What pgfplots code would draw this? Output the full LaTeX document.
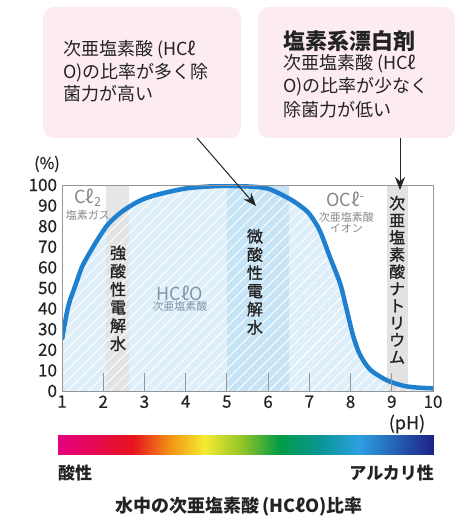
\documentclass[border=0pt]{standalone}
\usepackage{fontspec}
\setmainfont{Noto Sans CJK JP}
\newfontfamily\medfont[FakeBold=1.2]{Noto Sans CJK JP}
\newfontfamily\numfont[FakeBold=0.5]{Noto Sans CJK JP}
\usepackage{pgfplots}
\pgfplotsset{compat=1.18}
\usepackage{pgfplotstable}
\usetikzlibrary{patterns.meta, arrows.meta}

\definecolor{pinkbox}{RGB}{252,236,239}
\definecolor{areablue}{RGB}{222,239,250}
\definecolor{bandblue}{RGB}{198,228,245}
\definecolor{bandgray}{RGB}{226,226,226}
\definecolor{curveblue}{RGB}{30,128,206}
\definecolor{txtgray}{RGB}{135,135,135}
\definecolor{hclogray}{RGB}{130,150,168}
\definecolor{axgray}{RGB}{150,150,150}
\definecolor{txtdark}{RGB}{35,35,35}

% HClO share (%) against pH
\pgfplotstableread{
x y
1 25
1.15 41
1.32 51
1.48 60
1.64 66
1.88 74
2.12 81
2.45 87
2.85 92
3.25 95
4 98.3
4.8 99.5
5.5 99.3
6 98.2
6.5 93.5
6.77 90
7 86
7.25 78
7.5 65
7.75 52
7.9 40
8.06 27
8.22 18
8.47 10.5
8.87 5.3
9.27 2.6
9.6 1.7
10 1.3
}\curvedata

% colour bar samples (two rows, 21 columns)
\pgfplotstableread{
x y z
0 0 0
0.05 0 0
0.1 0 0
0.15 0 0
0.2 0 0
0.25 0 0
0.3 0 0
0.35 0 0
0.4 0 0
0.45 0 0
0.5 0 0
0.55 0 0
0.6 0 0
0.65 0 0
0.7 0 0
0.75 0 0
0.8 0 0
0.85 0 0
0.9 0 0
0.95 0 0
1 0 0
0 1 0
0.05 1 0
0.1 1 0
0.15 1 0
0.2 1 0
0.25 1 0
0.3 1 0
0.35 1 0
0.4 1 0
0.45 1 0
0.5 1 0
0.55 1 0
0.6 1 0
0.65 1 0
0.7 1 0
0.75 1 0
0.8 1 0
0.85 1 0
0.9 1 0
0.95 1 0
1 1 0
}\bardata

\newcommand{\fs}[1]{\fontsize{#1}{#1}\selectfont}

\begin{document}
\begin{tikzpicture}
\path[use as bounding box] (0,0) rectangle (472pt,522pt);

% callout boxes
\fill[pinkbox, rounded corners=11pt] (43pt,384pt) rectangle (241pt,515pt);
\fill[pinkbox, rounded corners=11pt] (258pt,384pt) rectangle (455pt,515pt);
\begin{scope}[every node/.style={anchor=base west, inner sep=0pt, text=txtdark, font=\fs{18}}]
\node at (63pt,466pt) {次亜塩素酸\hspace{4pt}(HCℓ};
\node at (63pt,443pt) {O)の比率が多く除};
\node at (63pt,421pt) {菌力が高い};
\node[font=\fs{22}\bfseries] at (283pt,472pt) {塩素系漂白剤};
\node at (283pt,452pt) {次亜塩素酸\hspace{4pt}(HCℓ};
\node at (283pt,429pt) {O)の比率が少なく};
\node at (283pt,405pt) {除菌力が低い};
\end{scope}

\begin{axis}[
  at={(62pt,131pt)}, anchor=south west,
  scale only axis, width=371pt, height=206pt,
  xmin=1, xmax=10, ymin=0, ymax=100,
  xtick={1,...,10}, ytick={0,10,...,100},
  axis on top,
  axis line style={axgray, line width=0.8pt},
  xtick pos=bottom, ytick pos=left,
  tick align=inside,
  major tick length=18pt,
  xtick style={axgray, line width=0.8pt},
  ytick style={draw=none},
  tick label style={font=\numfont\fs{17}, text=txtdark, /pgf/number format/assume math mode=true},
  yticklabel style={xshift=-1.5pt},
  xticklabel style={yshift=-1pt},
]
\addplot[fill=areablue, draw=none, smooth] table {\curvedata} \closedcycle;
\addplot[fill=bandblue, draw=none] coordinates {(5,0) (5,100) (6.5,100) (6.5,0)} --cycle;
\addplot[fill=bandgray, fill opacity=0.85, draw=none] coordinates {(2.07,0) (2.07,100) (2.62,100) (2.62,0)} --cycle;
\addplot[fill=bandgray, draw=none] coordinates {(8.88,0) (8.88,100) (9.4,100) (9.4,0)} --cycle;
\addplot[pattern={Lines[angle=45, distance=7.5pt, line width=0.9pt]}, pattern color=white, draw=none, smooth] table {\curvedata} \closedcycle;
\addplot[curveblue, line width=4.5pt, smooth] table {\curvedata};

\node[txtgray, font=\fs{18}] at (axis cs:1.63,94) {Cℓ\textsubscript{2}};
\node[txtgray, font=\fs{11}] at (axis cs:1.63,85.5) {塩素ガス};
\node[hclogray, font=\fs{18}] at (axis cs:3.86,47.5) {HCℓO};
\node[hclogray, font=\fs{11}] at (axis cs:3.86,41) {次亜塩素酸};
\node[txtgray, font=\fs{18}] at (axis cs:7.88,93) {OCℓ\textsuperscript{-}};
\node[txtgray, font=\fs{11}] at (axis cs:7.9,84.5) {次亜塩素酸};
\node[txtgray, font=\fs{11}] at (axis cs:7.9,79) {イオン};
\begin{scope}[every node/.style={align=center, text=txtdark, inner sep=0pt, font=\medfont\fontsize{16}{18.2}\selectfont}]
\node at (axis cs:2.36,45) {強\\酸\\性\\電\\解\\水};
\node at (axis cs:5.68,53) {微\\酸\\性\\電\\解\\水};
\node[font=\medfont\fontsize{16}{17.1}\selectfont] at (axis cs:9.13,54) {次\\亜\\塩\\素\\酸\\ナ\\ト\\リ\\ウ\\ム};
\end{scope}
\end{axis}

% arrows from the callouts
\draw[txtdark, line width=1pt, -{Stealth[length=13pt, width=10pt]}] (197pt,384pt) -- (256pt,316pt);
\draw[txtdark, line width=1pt, -{Stealth[length=13pt, width=10pt]}] (400pt,384pt) -- (400pt,332pt);

\node[txtdark, font=\numfont\fs{16}] at (47pt,358pt) {(\%)};
\node[txtdark, font=\numfont\fs{18}] at (407pt,98pt) {(pH)};

% colour bar
\begin{axis}[
  at={(58pt,67pt)}, anchor=south west,
  scale only axis, width=376pt, height=20pt,
  hide axis, xmin=0, xmax=1, ymin=0, ymax=1,
  view={0}{90},
  colormap={ph}{rgb255(0)=(229,0,128); rgb255(20)=(230,20,30); rgb255(30)=(243,150,20); rgb255(39)=(245,235,50); rgb255(49)=(145,196,40); rgb255(59)=(0,155,70); rgb255(70)=(10,150,150); rgb255(80)=(45,160,225); rgb255(100)=(30,32,135)},
]
\addplot3[surf, shader=interp, mesh/cols=21, point meta=x] table {\bardata};
\end{axis}

\node[anchor=west, txtdark, font=\fs{17}\bfseries, inner sep=0pt] at (58pt,49pt) {酸性};
\node[anchor=east, txtdark, font=\fs{17}\bfseries, inner sep=0pt] at (434pt,49pt) {アルカリ性};
\node[txtdark, font=\fs{18}\bfseries] at (239pt,15pt) {水中の次亜塩素酸\hspace{3pt}(HCℓO)比率};
\end{tikzpicture}
\end{document}
